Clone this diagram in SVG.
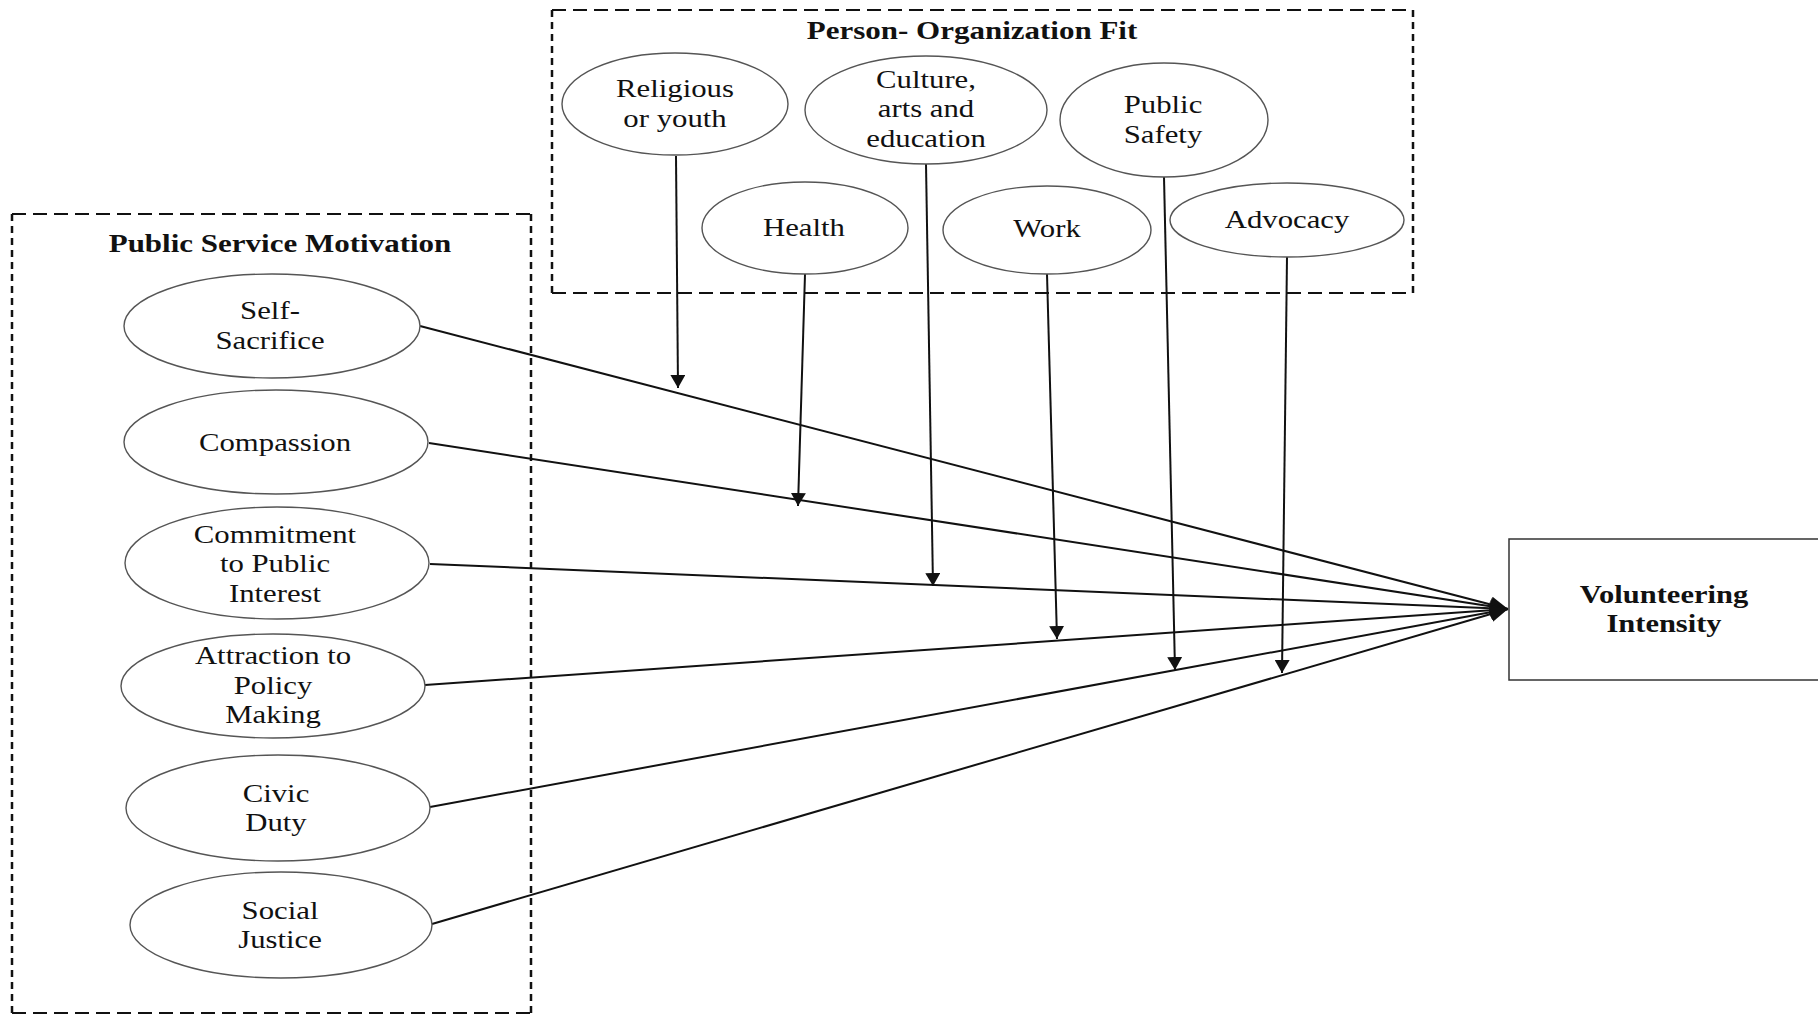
<svg xmlns="http://www.w3.org/2000/svg" width="1818" height="1015" viewBox="0 0 1818 1015">
<defs>
<style>
.bg{fill:#ffffff}
.ell{fill:#ffffff;stroke:#555555;stroke-width:1.4}
.t{font-family:"Liberation Serif","Times New Roman",serif;font-size:25px;fill:#111111;text-anchor:middle}
.tb{font-family:"Liberation Serif","Times New Roman",serif;font-size:25px;font-weight:bold;fill:#111111;text-anchor:middle}
.dh{stroke:#111111;stroke-width:2;stroke-dasharray:14 7;fill:none}
.dv{stroke:#111111;stroke-width:2.5;stroke-dasharray:7 5;fill:none}
.cv{stroke:#111111;stroke-width:2;fill:none;marker-end:url(#ah)}
.ch{stroke:#111111;stroke-width:2;fill:none;marker-end:url(#ah2)}
.box{fill:#ffffff;stroke:#333333;stroke-width:1.5}
</style>
<marker id="ah" viewBox="0 0 13 15" refX="13" refY="7.5" markerWidth="13" markerHeight="15" markerUnits="userSpaceOnUse" orient="auto">
<path d="M0,0 L13,7.5 L0,15 z" fill="#111111"/>
</marker>
<marker id="ah2" viewBox="0 0 18 16" refX="18" refY="8" markerWidth="18" markerHeight="16" markerUnits="userSpaceOnUse" orient="auto">
<path d="M0,0 L18,8 L0,16 z" fill="#111111"/>
</marker>
</defs>
<rect class="bg" x="0" y="0" width="1818" height="1015"/>

<g id="group-po-fit">
<line class="dh" x1="552" y1="10" x2="1413" y2="10"/>
<line class="dh" x1="552" y1="293" x2="1413" y2="293"/>
<line class="dv" x1="552" y1="10" x2="552" y2="293"/>
<line class="dv" x1="1413" y1="10" x2="1413" y2="293"/>
<text class="tb" transform="translate(972 0) scale(1.24 1)" x="0" y="39">Person- Organization Fit</text>
</g>

<g id="group-psm">
<line class="dh" x1="12" y1="214" x2="531" y2="214"/>
<line class="dh" x1="12" y1="1013" x2="531" y2="1013"/>
<line class="dv" x1="12" y1="214" x2="12" y2="1013"/>
<line class="dv" x1="531" y1="214" x2="531" y2="1013"/>
<text class="tb" transform="translate(280 0) scale(1.24 1)" x="0" y="252">Public Service Motivation</text>
</g>

<g id="connectors">
<line class="ch" x1="420" y1="326" x2="1508" y2="609"/>
<line class="ch" x1="429" y1="443" x2="1508" y2="609"/>
<line class="ch" x1="430" y1="564" x2="1508" y2="609"/>
<line class="ch" x1="425" y1="685" x2="1508" y2="609"/>
<line class="ch" x1="430" y1="807" x2="1508" y2="609"/>
<line class="ch" x1="432" y1="924" x2="1508" y2="609"/>
<line class="cv" x1="676" y1="156" x2="678" y2="388"/>
<line class="cv" x1="805" y1="274" x2="798" y2="506"/>
<line class="cv" x1="926" y1="164" x2="933" y2="586"/>
<line class="cv" x1="1047" y1="274" x2="1057" y2="639"/>
<line class="cv" x1="1164" y1="177" x2="1175" y2="670"/>
<line class="cv" x1="1287" y1="257" x2="1282" y2="673"/>
</g>

<g id="node-religious">
<ellipse class="ell" cx="675" cy="104" rx="113" ry="51"/>
<text class="t" transform="translate(675 0) scale(1.23 1)"><tspan x="0" y="97">Religious</tspan><tspan x="0" y="127">or youth</tspan></text>
</g>
<g id="node-culture">
<ellipse class="ell" cx="926" cy="110" rx="121" ry="54"/>
<text class="t" transform="translate(926 0) scale(1.23 1)"><tspan x="0" y="88">Culture,</tspan><tspan x="0" y="117">arts and</tspan><tspan x="0" y="147">education</tspan></text>
</g>
<g id="node-public-safety">
<ellipse class="ell" cx="1164" cy="120" rx="104" ry="57"/>
<text class="t" transform="translate(1163 0) scale(1.23 1)"><tspan x="0" y="113">Public</tspan><tspan x="0" y="143">Safety</tspan></text>
</g>
<g id="node-health">
<ellipse class="ell" cx="805" cy="228" rx="103" ry="46"/>
<text class="t" transform="translate(804 0) scale(1.23 1)" x="0" y="236">Health</text>
</g>
<g id="node-work">
<ellipse class="ell" cx="1047" cy="230" rx="104" ry="44"/>
<text class="t" transform="translate(1047 0) scale(1.23 1)" x="0" y="237">Work</text>
</g>
<g id="node-advocacy">
<ellipse class="ell" cx="1287" cy="220" rx="117" ry="37"/>
<text class="t" transform="translate(1287 0) scale(1.23 1)" x="0" y="228">Advocacy</text>
</g>

<g id="node-self-sacrifice">
<ellipse class="ell" cx="272" cy="326" rx="148" ry="52"/>
<text class="t" transform="translate(270 0) scale(1.23 1)"><tspan x="0" y="319">Self-</tspan><tspan x="0" y="349">Sacrifice</tspan></text>
</g>
<g id="node-compassion">
<ellipse class="ell" cx="276" cy="442" rx="152" ry="52"/>
<text class="t" transform="translate(275 0) scale(1.23 1)" x="0" y="451">Compassion</text>
</g>
<g id="node-commitment">
<ellipse class="ell" cx="277" cy="563" rx="152" ry="56"/>
<text class="t" transform="translate(275 0) scale(1.23 1)"><tspan x="0" y="543">Commitment</tspan><tspan x="0" y="572">to Public</tspan><tspan x="0" y="602">Interest</tspan></text>
</g>
<g id="node-attraction">
<ellipse class="ell" cx="273" cy="686" rx="152" ry="52"/>
<text class="t" transform="translate(273 0) scale(1.23 1)"><tspan x="0" y="664">Attraction to</tspan><tspan x="0" y="694">Policy</tspan><tspan x="0" y="723">Making</tspan></text>
</g>
<g id="node-civic-duty">
<ellipse class="ell" cx="278" cy="808" rx="152" ry="53"/>
<text class="t" transform="translate(276 0) scale(1.23 1)"><tspan x="0" y="802">Civic</tspan><tspan x="0" y="831">Duty</tspan></text>
</g>
<g id="node-social-justice">
<ellipse class="ell" cx="281" cy="925" rx="151" ry="53"/>
<text class="t" transform="translate(280 0) scale(1.23 1)"><tspan x="0" y="919">Social</tspan><tspan x="0" y="948">Justice</tspan></text>
</g>

<g id="node-volunteering">
<rect class="box" x="1509" y="539" width="330" height="141"/>
<text class="tb" transform="translate(1664 0) scale(1.22 1)"><tspan x="0" y="603">Volunteering</tspan><tspan x="0" y="632">Intensity</tspan></text>
</g>
</svg>
